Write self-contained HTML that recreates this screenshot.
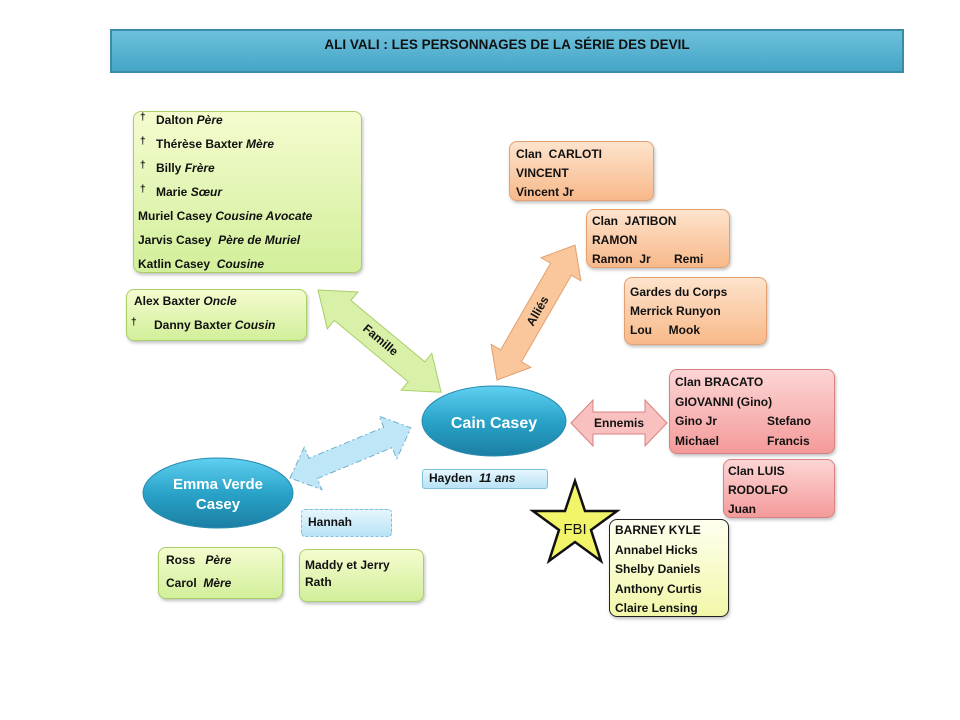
<!DOCTYPE html>
<html><head><meta charset="utf-8"><style>
body{margin:0;width:960px;height:720px;background:#fff;position:relative;overflow:hidden;font-family:"Liberation Sans",sans-serif;}
.b{position:absolute;box-sizing:border-box;border-radius:8px;font-weight:bold;font-size:12px;color:#111;}
.g{background:linear-gradient(#f4fccf,#d2ef9a);border:1px solid #a9cf6a;box-shadow:1px 2px 3px rgba(0,0,0,.25);}
.o{background:linear-gradient(#fde3cc,#f8b98a);border:1px solid #e4a070;box-shadow:1px 2px 3px rgba(0,0,0,.25);}
.r{background:linear-gradient(#fdd5d5,#f49a9a);border:1px solid #d98080;box-shadow:1px 2px 3px rgba(0,0,0,.25);}
.y{background:linear-gradient(#fffff0,#f2f7a8);border:1px solid #222;box-shadow:1px 2px 3px rgba(0,0,0,.25);}
.bl{background:linear-gradient(#e6f6fd,#b8e3f5);border:1px solid #7fc0dc;}
.l{position:absolute;white-space:nowrap;}
i{font-weight:bold;}
</style></head><body>
<div style="position:absolute;left:110px;top:29px;width:794px;height:44px;box-sizing:border-box;background:linear-gradient(#6cc0dc,#45a6c6);border:2px solid #3a8aa8;"></div>
<div class="l" style="left:110px;width:794px;top:37px;text-align:center;font-weight:bold;font-size:13.5px;color:#111;">ALI VALI : LES PERSONNAGES DE LA SÉRIE DES DEVIL</div>

<svg width="960" height="720" style="position:absolute;left:0;top:0">
<defs>
<linearGradient id="cg" x1="0" y1="0" x2="0" y2="1"><stop offset="0" stop-color="#5fd0f0"/><stop offset=".5" stop-color="#2aa3c9"/><stop offset="1" stop-color="#1a7fa3"/></linearGradient>
</defs>
<g transform="translate(318,290) rotate(39.7)"><polygon points="0,0 32,-24 32,-13 128,-13 128,-24 160,0 128,24 128,13 32,13 32,24" fill="#d8f0a8" stroke="#a9cf6a"/></g>
<g transform="translate(575,245) rotate(120)"><polygon points="0,0 28,-23 28,-12 128,-12 128,-23 156,0 128,23 128,12 28,12 28,23" fill="#f9c79b" stroke="#e4a070"/></g>
<polygon points="571,423 593,400 593,412 645,412 645,400 667,423 645,446 645,434 593,434 593,446" fill="#f9c0c0" stroke="#d98080"/>
<g transform="translate(290,478) rotate(-22.5)"><polygon points="0,0 25,-23 25,-11 106,-11 106,-23 131,0 106,23 106,11 25,11 25,23" fill="#bfe6f7" stroke="#6ab0cc" stroke-dasharray="6,3,2,3"/></g>
<ellipse cx="494" cy="421" rx="72" ry="35" fill="url(#cg)" stroke="#2a8ab0"/>
<ellipse cx="218" cy="493" rx="75" ry="35" fill="url(#cg)" stroke="#2a8ab0"/>
<polygon points="575,481 585,511 617,511 591,530 601,561 575,542 549,561 559,530 533,511 565,511" fill="#f2f56a" stroke="#111" stroke-width="2.5"/>
<text x="575" y="534" text-anchor="middle" font-family="Liberation Sans" font-size="15" fill="#111">FBI</text>
<text x="494" y="428" text-anchor="middle" font-family="Liberation Sans" font-weight="bold" font-size="16" fill="#fff">Cain Casey</text>
<text x="218" y="489" text-anchor="middle" font-family="Liberation Sans" font-weight="bold" font-size="15" fill="#fff">Emma Verde</text>
<text x="218" y="509" text-anchor="middle" font-family="Liberation Sans" font-weight="bold" font-size="15" fill="#fff">Casey</text>
<text x="0" y="0" transform="translate(378,343) rotate(40)" text-anchor="middle" font-family="Liberation Sans" font-weight="bold" font-size="12" fill="#111">Famille</text>
<text x="0" y="0" transform="translate(541,313) rotate(-60)" text-anchor="middle" font-family="Liberation Sans" font-weight="bold" font-size="12" fill="#111">Alliés</text>
<text x="619" y="427" text-anchor="middle" font-family="Liberation Sans" font-weight="bold" font-size="12" fill="#111">Ennemis</text>
</svg>

<div class="b g" style="left:133px;top:111px;width:229px;height:162px;">
<div class="l" style="left:6px;top:0px;font-size:10px">†</div><div class="l" style="left:22px;top:1px">Dalton <i>Père</i></div>
<div class="l" style="left:6px;top:24px;font-size:10px">†</div><div class="l" style="left:22px;top:25px">Thérèse Baxter <i>Mère</i></div>
<div class="l" style="left:6px;top:48px;font-size:10px">†</div><div class="l" style="left:22px;top:49px">Billy <i>Frère</i></div>
<div class="l" style="left:6px;top:72px;font-size:10px">†</div><div class="l" style="left:22px;top:73px">Marie <i>Sœur</i></div>
<div class="l" style="left:4px;top:97px">Muriel Casey <i>Cousine Avocate</i></div>
<div class="l" style="left:4px;top:121px">Jarvis Casey &nbsp;<i>Père de Muriel</i></div>
<div class="l" style="left:4px;top:145px">Katlin Casey &nbsp;<i>Cousine</i></div>
</div>
<div class="b g" style="left:126px;top:289px;width:181px;height:52px;">
<div class="l" style="left:7px;top:4px">Alex Baxter <i>Oncle</i></div>
<div class="l" style="left:4px;top:27px;font-size:10px">†</div><div class="l" style="left:27px;top:28px">Danny Baxter <i>Cousin</i></div>
</div>

<div class="b o" style="left:509px;top:141px;width:145px;height:60px;line-height:19px;padding:3px 6px">Clan &nbsp;CARLOTI<br>VINCENT<br>Vincent Jr</div>
<div class="b o" style="left:586px;top:209px;width:144px;height:59px;line-height:19px;padding:2px 5px">Clan &nbsp;JATIBON<br>RAMON<br>Ramon &nbsp;Jr &nbsp;&nbsp;&nbsp;&nbsp;&nbsp;&nbsp;Remi</div>
<div class="b o" style="left:624px;top:277px;width:143px;height:68px;line-height:19px;padding:5px 5px">Gardes du Corps<br>Merrick Runyon<br>Lou &nbsp;&nbsp;&nbsp;&nbsp;Mook</div>

<div class="b r" style="left:669px;top:369px;width:166px;height:85px;line-height:19.5px;padding:3px 5px">Clan BRACATO<br>GIOVANNI (Gino)<br>Gino Jr<span style="position:absolute;left:97px">Stefano</span><br>Michael<span style="position:absolute;left:97px">Francis</span></div>
<div class="b r" style="left:723px;top:459px;width:112px;height:59px;line-height:19px;padding:2px 4px">Clan LUIS<br>RODOLFO<br>Juan</div>

<div class="b y" style="left:609px;top:519px;width:120px;height:98px;line-height:19.5px;padding:1px 5px">BARNEY KYLE<br>Annabel Hicks<br>Shelby Daniels<br>Anthony Curtis<br>Claire Lensing</div>

<div class="b bl" style="left:422px;top:469px;width:126px;height:20px;border-radius:3px;padding:1px 6px">Hayden &nbsp;<i>11 ans</i></div>
<div class="b bl" style="left:301px;top:509px;width:91px;height:28px;border-radius:4px;border-style:dashed;padding:5px 6px">Hannah</div>

<div class="b g" style="left:158px;top:547px;width:125px;height:52px;line-height:23px;padding:1px 7px">Ross &nbsp;&nbsp;<i>Père</i><br>Carol &nbsp;<i>Mère</i></div>
<div class="b g" style="left:299px;top:549px;width:125px;height:53px;line-height:17px;padding:7px 5px">Maddy et Jerry<br>Rath</div>
</body></html>
